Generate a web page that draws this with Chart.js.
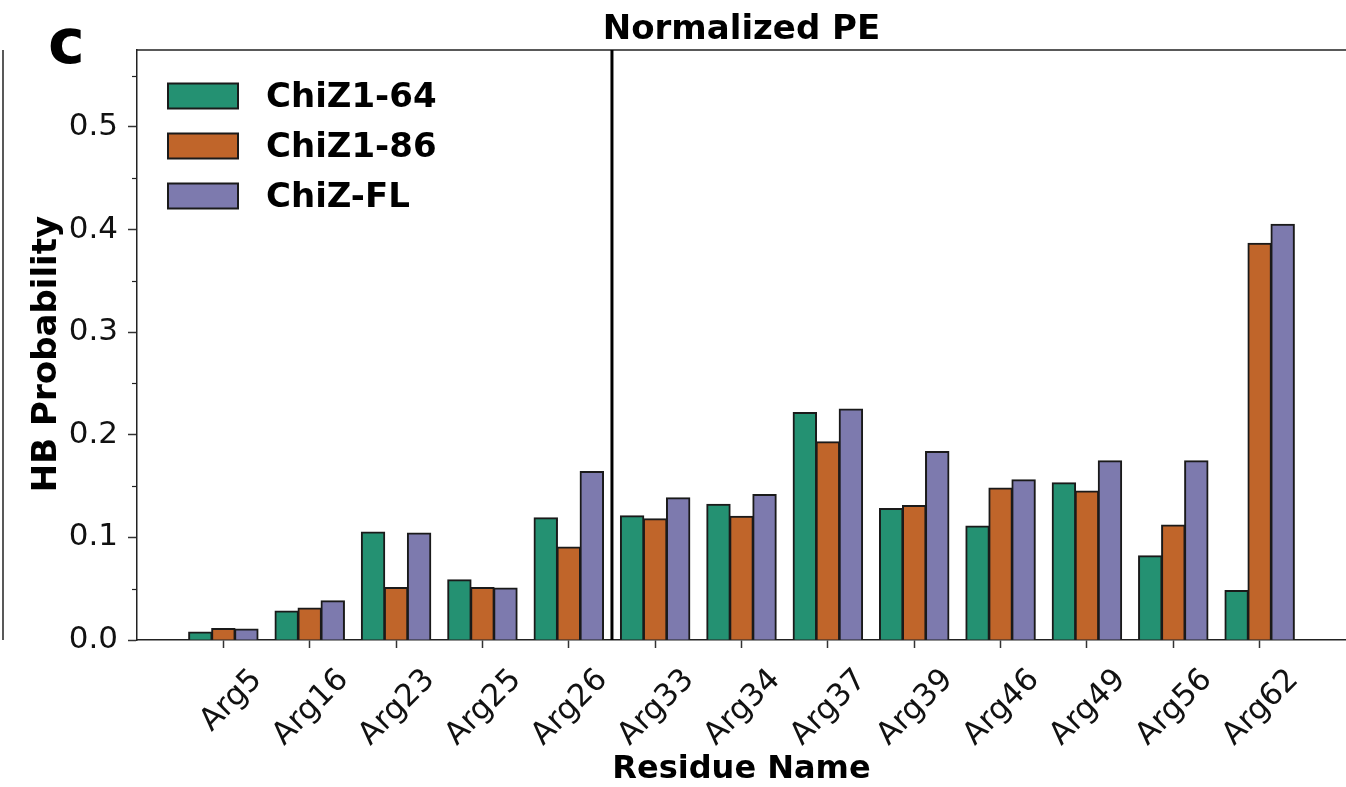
<!DOCTYPE html>
<html>
<head>
<meta charset="utf-8">
<script src="https://cdn.jsdelivr.net/npm/chart.js@4.4.1/dist/chart.umd.min.js"></script>
<style>
  html, body { margin: 0; padding: 0; background: #fff; }
  #wrap { width: 1346px; height: 787px; position: relative; }
</style>
</head>
<body>
<div id="wrap"><canvas id="hbChart"></canvas></div>
<script>
// categories (blank entries pad the axis on both sides)
const residues = ['', 'Arg5', 'Arg16', 'Arg23', 'Arg25', 'Arg26', 'Arg33', 'Arg34', 'Arg37', 'Arg39', 'Arg46', 'Arg49', 'Arg56', 'Arg62', ''];

// HB probability per residue
const chiZ1_64 = [null, 0.0075, 0.028, 0.105, 0.0585, 0.119, 0.121, 0.132, 0.2215, 0.128, 0.111, 0.153, 0.082, 0.048, null];
const chiZ1_86 = [null, 0.011, 0.031, 0.051, 0.051, 0.0905, 0.118, 0.1205, 0.193, 0.131, 0.148, 0.145, 0.112, 0.3865, null];
const chiZ_FL  = [null, 0.0105, 0.038, 0.104, 0.0505, 0.164, 0.1385, 0.1415, 0.225, 0.1835, 0.156, 0.1745, 0.1745, 0.405, null];

const minorTicks = [0.05, 0.15, 0.25, 0.35, 0.45, 0.55];

const FONT = "'DejaVu Sans', sans-serif";
Chart.defaults.font.family = FONT;
Chart.defaults.color = '#111';

// extra drawing: panel letter, titles, frame, divider, legend
const decorations = {
  id: 'decorations',
  afterDatasetsDraw(chart) {
    const { ctx, chartArea: a, scales } = chart;
    const x = scales.x, y = scales.y;
    ctx.save();
    // top frame line
    ctx.strokeStyle = '#222';
    ctx.lineWidth = 1.5;
    ctx.beginPath();
    ctx.moveTo(a.left, a.top);
    ctx.lineTo(chart.width, a.top);
    ctx.stroke();
    // edge of the neighbouring panel
    ctx.beginPath();
    ctx.moveTo(3, a.top);
    ctx.lineTo(3, a.bottom);
    ctx.stroke();
    // minor ticks
    ctx.lineWidth = 1.2;
    minorTicks.forEach(v => {
      const py = Math.round(y.getPixelForValue(v)) + 0.5;
      ctx.beginPath();
      ctx.moveTo(a.left - 5, py);
      ctx.lineTo(a.left, py);
      ctx.stroke();
    });
    // divider between Arg26 and Arg33
    const xd = (x.getPixelForValue(5) + x.getPixelForValue(6)) / 2;
    ctx.strokeStyle = '#000';
    ctx.lineWidth = 3;
    ctx.beginPath();
    ctx.moveTo(xd, a.top);
    ctx.lineTo(xd, a.bottom);
    ctx.stroke();
    ctx.restore();
  },
  afterDraw(chart) {
    const { ctx, chartArea: a } = chart;
    ctx.save();
    ctx.fillStyle = '#000';
    ctx.textBaseline = 'alphabetic';
    ctx.font = 'bold 62px ' + FONT;
    ctx.textAlign = 'left';
    ctx.fillText('c', 48, 63);
    ctx.font = 'bold 34px ' + FONT;
    ctx.textAlign = 'center';
    ctx.fillText('Normalized PE', (a.left + a.right) / 2, 39);
    // y axis title
    ctx.save();
    ctx.translate(56, (a.top + a.bottom) / 2 + 9);
    ctx.rotate(-Math.PI / 2);
    ctx.font = 'bold 34px ' + FONT;
    ctx.textAlign = 'center';
    ctx.textBaseline = 'alphabetic';
    ctx.fillText('HB Probability', 0, 0);
    ctx.restore();
    // legend
    ctx.textAlign = 'left';
    ctx.textBaseline = 'middle';
    ctx.font = 'bold 34px ' + FONT;
    chart.data.datasets.forEach((ds, i) => {
      const cy = 96 + i * 50;
      ctx.fillStyle = ds.backgroundColor;
      ctx.fillRect(168, cy - 12.5, 70, 25);
      ctx.strokeStyle = '#1a1a1a';
      ctx.lineWidth = 2;
      ctx.strokeRect(168, cy - 12.5, 70, 25);
      ctx.fillStyle = '#000';
      ctx.fillText(ds.label, 266, cy + 2);
    });
    ctx.restore();
  }
};

const hidden = c => (c.tick && c.tick.label === '') ? 'rgba(0,0,0,0)' : '#333';

const barStyle = {
  categoryPercentage: 0.8,
  barPercentage: 1.0,
  borderColor: '#1a1a1a',
  borderWidth: 2,
  borderSkipped: 'bottom',
  inflateAmount: 0.7
};

new Chart(document.getElementById('hbChart').getContext('2d'), {
  type: 'bar',
  data: {
    labels: residues,
    datasets: [
      { label: 'ChiZ1-64', data: chiZ1_64, backgroundColor: '#249172', ...barStyle },
      { label: 'ChiZ1-86', data: chiZ1_86, backgroundColor: '#c0652a', ...barStyle },
      { label: 'ChiZ-FL', data: chiZ_FL, backgroundColor: '#7d7aae', ...barStyle }
    ]
  },
  options: {
    responsive: true,
    maintainAspectRatio: false,
    animation: false,
    layout: { padding: { top: 50, right: 0, left: 0, bottom: 0 } },
    scales: {
      x: {
        offset: false,
        afterFit(scale) {
          scale.height = 147;
          scale.paddingLeft = 0;
          scale.paddingRight = 0;
        },
        border: { display: true, color: '#222', width: 1.5 },
        grid: {
          offset: false,
          drawOnChartArea: false,
          drawTicks: true,
          tickLength: 8,
          color: hidden,
          tickColor: hidden,
          tickWidth: 1.5
        },
        ticks: {
          autoSkip: false,
          minRotation: 45,
          maxRotation: 45,
          labelOffset: 34,
          padding: 14,
          color: '#111',
          font: { size: 31 }
        },
        title: {
          display: true,
          text: 'Residue Name',
          color: '#000',
          font: { size: 32, weight: 'bold', lineHeight: 1 },
          padding: { top: 0, bottom: 1 }
        }
      },
      y: {
        min: 0,
        max: 0.575,
        afterFit(scale) { scale.width = 137; },
        border: { display: true, color: '#222', width: 1.5 },
        grid: {
          drawOnChartArea: false,
          tickLength: 9,
          tickColor: '#333',
          tickWidth: 1.5
        },
        ticks: {
          stepSize: 0.1,
          includeBounds: false,
          padding: 10,
          color: '#111',
          font: { size: 31 },
          callback: v => v.toFixed(1)
        }
      }
    },
    plugins: {
      legend: { display: false },
      title: { display: false },
      tooltip: { enabled: false }
    }
  },
  plugins: [decorations]
});
</script>
</body>
</html>
